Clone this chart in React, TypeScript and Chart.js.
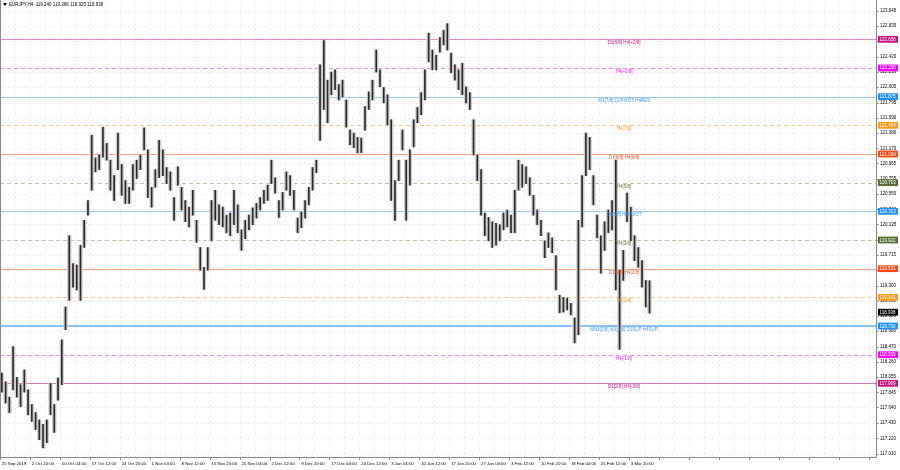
import React, { useEffect, useRef } from 'react';
import { Chart, registerables } from 'chart.js';
Chart.register(...registerables);

const symbolTitle = 'EURJPY,H4';
const lastBar = [119.24, 119.366, 118.925, 118.938];
const lastPrice = 118.938;

const timeLabels = ['25 Sep 2019', '2 Oct 20:00', '10 Oct 04:00', '17 Oct 12:00', '24 Oct 20:00', '1 Nov 04:00', '8 Nov 12:00', '15 Nov 20:00', '25 Nov 04:00', '2 Dec 12:00', '9 Dec 20:00', '17 Dec 04:00', '24 Dec 12:00', '3 Jan 04:00', '10 Jan 12:00', '17 Jan 20:00', '27 Jan 04:00', '3 Feb 12:00', '10 Feb 20:00', '18 Feb 04:00', '25 Feb 12:00', '3 Mar 20:00'];

const highs = [
  118.11, 117.99, 117.78, 118.47, 118.05, 117.95, 118.15, 117.88, 117.68, 117.57,
  117.47, 117.41, 117.47, 117.97, 117.68, 118.04, 118.56, 119.01, 119.98, 119.60,
  119.58, 119.85, 120.19, 120.46, 121.35, 121.04, 121.08, 121.46, 121.24, 121.01,
  120.80, 121.38, 120.95, 120.73, 120.64, 120.95, 121.01, 121.08, 121.45, 121.15,
  120.64, 120.88, 121.28, 121.15, 120.91, 120.85, 120.50, 120.92, 120.64, 120.46,
  120.37, 120.60, 120.19, 119.82, 119.55, 119.82, 120.46, 120.60, 120.40, 120.37,
  120.26, 120.29, 120.60, 120.40, 120.06, 120.19, 120.26, 120.36, 120.42, 120.50,
  120.60, 120.67, 121.01, 120.77, 120.46, 120.57, 120.85, 120.80, 120.60, 120.22,
  120.30, 120.46, 120.64, 120.91, 121.01, 122.31, 122.64, 122.10, 122.21, 122.24,
  122.04, 122.10, 121.83, 121.42, 121.38, 121.32, 121.31, 121.74, 121.94, 122.10,
  122.51, 122.24, 122.00, 121.90, 121.56, 120.73, 121.01, 121.42, 121.01, 121.15,
  121.56, 121.73, 121.93, 122.24, 122.74, 122.51, 122.44, 122.68, 122.78, 122.87,
  122.47, 122.31, 122.24, 122.33, 122.01, 121.93, 121.56, 121.08, 120.88, 120.29,
  120.23, 120.17, 120.15, 120.13, 120.29, 120.33, 120.26, 120.60, 121.01, 120.95,
  120.92, 120.77, 120.53, 120.33, 120.19, 119.91, 120.02, 119.95, 119.71, 119.17,
  119.14, 119.13, 119.06, 118.86, 120.19, 120.80, 121.38, 121.32, 120.80, 120.26,
  119.98, 120.17, 120.33, 120.46, 121.01, 119.51, 119.78, 120.56, 120.37, 119.98,
  119.82, 119.64, 119.37, 119.366,
];

const lows = [
  117.85, 117.70, 117.57, 117.88, 117.78, 117.65, 117.85, 117.54, 117.45, 117.34,
  117.20, 117.09, 117.16, 117.54, 117.30, 117.74, 117.95, 118.70, 119.10, 119.28,
  119.24, 119.10, 119.82, 120.26, 120.60, 120.85, 120.88, 121.05, 121.01, 120.60,
  120.46, 120.88, 120.53, 120.42, 120.42, 120.60, 120.76, 120.88, 121.15, 120.50,
  120.37, 120.64, 120.77, 120.80, 120.69, 120.60, 120.19, 120.67, 120.33, 120.17,
  120.10, 120.26, 119.89, 119.51, 119.25, 119.51, 119.91, 120.19, 120.13, 120.10,
  120.02, 119.98, 120.13, 120.02, 119.78, 119.94, 120.06, 120.13, 120.22, 120.33,
  120.42, 120.46, 120.69, 120.56, 120.23, 120.33, 120.60, 120.53, 120.33, 120.02,
  120.09, 120.22, 120.40, 120.60, 120.84, 121.28, 121.70, 121.52, 121.90, 121.97,
  121.83, 121.87, 121.46, 121.22, 121.18, 121.11, 121.11, 121.42, 121.70, 121.83,
  122.21, 122.01, 121.79, 121.49, 120.46, 120.19, 120.73, 121.15, 120.19, 120.67,
  121.19, 121.52, 121.63, 121.83, 122.35, 122.24, 122.24, 122.48, 122.58, 122.51,
  122.20, 122.10, 121.97, 121.90, 121.79, 121.70, 121.08, 120.73, 120.26, 119.98,
  119.91, 119.82, 119.85, 119.91, 120.06, 120.10, 120.02, 120.02, 120.60, 120.64,
  120.69, 120.53, 120.26, 120.13, 119.98, 119.68, 119.82, 119.75, 119.24, 118.93,
  118.94, 118.97, 118.90, 118.52, 118.63, 120.10, 120.80, 120.88, 120.40, 119.95,
  119.47, 119.78, 120.02, 120.06, 119.24, 118.43, 119.37, 120.17, 119.91, 119.64,
  119.55, 119.28, 119.01, 118.925,
];

const priceTicks = [123.045, 122.835, 122.63, 122.42, 122.21, 122.005, 121.795, 121.59, 121.38, 121.17, 120.965, 120.755, 120.55, 120.34, 120.135, 119.925, 119.715, 119.51, 119.3, 119.09, 118.885, 118.68, 118.47, 118.26, 118.055, 117.845, 117.64, 117.43, 117.22, 117.01];

const levelPrices = [122.656, 122.266, 121.875, 121.484, 121.094, 120.703, 120.313, 119.922, 119.531, 119.141, 118.75, 118.359, 117.969];
const levelNames = ['D1[8/8] H4[+2/8]', 'H4[+1/8]', 'W1[7/8] D1PIVOT H4RES', 'H4[7/8]', 'D1[6/8] H4[6/8]', 'H4[5/8]', 'D1[5/8] H4PIVOT', 'H4[3/8]', 'D1[4/8] H4[2/8]', 'H4[1/8]', 'MN1[3/8] W1[3/8] D1SUP H4SUP', 'H4[-1/8]', 'D1[2/8] H4[-2/8]'];

// styles (not data)
const levelStyles = [
  { line: '#e78ac2', text: '#c71585', box: '#c71585', dash: false, width: 1 },
  { line: '#f084f0', text: '#f020f0', box: '#ff00ff', dash: true, width: 1 },
  { line: '#9ccaf6', text: '#3d98ee', box: '#1e90ff', dash: false, width: 1 },
  { line: '#f8c690', text: '#f39a2a', box: '#ff9a1a', dash: true, width: 1 },
  { line: '#f7a184', text: '#f45a2a', box: '#ff4a12', dash: false, width: 1 },
  { line: '#c6c1a8', text: '#6b7d3c', box: '#5a6e35', dash: true, width: 1 },
  { line: '#9ccaf6', text: '#3d98ee', box: '#1e90ff', dash: false, width: 1 },
  { line: '#c6c1a8', text: '#6b7d3c', box: '#5a6e35', dash: true, width: 1 },
  { line: '#f7a184', text: '#f45a2a', box: '#ff4a12', dash: false, width: 1 },
  { line: '#f8c690', text: '#f39a2a', box: '#ff9a1a', dash: true, width: 1 },
  { line: '#86c0f7', text: '#3d98ee', box: '#1e90ff', dash: false, width: 2 },
  { line: '#f084f0', text: '#f020f0', box: '#ff00ff', dash: true, width: 1 },
  { line: '#d777b5', text: '#c71585', box: '#c71585', dash: false, width: 1 },
];

const SLOTS = 234;
const FONT = '"Liberation Sans", Arial, sans-serif';

export default function App() {
  const ref = useRef<HTMLCanvasElement>(null);
  useEffect(() => {
    document.body.style.margin = '0';
    const labels = Array.from({ length: SLOTS }, (_, i) => (i % 8 === 0 && timeLabels[i / 8]) ? timeLabels[i / 8] : '');
    const ranges = highs.map((h, i) => [lows[i], h]);

    const mt4 = {
      id: 'mt4',
      beforeDatasetsDraw(chart: any) {
        const { ctx, chartArea: a, scales } = chart;
        const x = scales.x, y = scales.y;
        const w = (a.right - a.left) / SLOTS;
        ctx.save();
        ctx.beginPath();
        ctx.rect(a.left, a.top, a.right - a.left, a.bottom - a.top);
        ctx.clip();
        ctx.strokeStyle = '#ececec';
        ctx.lineWidth = 1;
        ctx.setLineDash([2, 2]);
        for (let i = 4; i < SLOTS; i += 4) {
          const px = Math.round(x.getPixelForValue(i) - w / 2) + 0.5;
          ctx.beginPath(); ctx.moveTo(px, a.top); ctx.lineTo(px, a.bottom); ctx.stroke();
        }
        priceTicks.forEach((v) => {
          const py = Math.round(y.getPixelForValue(v)) + 0.5;
          ctx.beginPath(); ctx.moveTo(a.left, py); ctx.lineTo(a.right, py); ctx.stroke();
        });
        levelPrices.forEach((p, i) => {
          const s = levelStyles[i];
          const py = Math.round(y.getPixelForValue(p)) + (s.width === 1 ? 0.5 : 0);
          ctx.strokeStyle = s.line;
          ctx.lineWidth = s.width;
          ctx.setLineDash(s.dash ? [4, 3] : []);
          ctx.beginPath(); ctx.moveTo(a.left, py); ctx.lineTo(a.right, py); ctx.stroke();
        });
        ctx.restore();
      },
      afterDatasetsDraw(chart: any) {
        const { ctx, scales } = chart;
        const y = scales.y;
        ctx.save();
        ctx.font = `4.5px ${FONT}`;
        ctx.textAlign = 'center';
        ctx.textBaseline = 'top';
        levelPrices.forEach((p, i) => {
          const py = y.getPixelForValue(p);
          ctx.fillStyle = levelStyles[i].text;
          ctx.fillText(levelNames[i], 624, py + 1.5);
        });
        ctx.restore();
      },
      afterDraw(chart: any) {
        const { ctx, chartArea: a, scales } = chart;
        const x = scales.x, y = scales.y;
        const w = (a.right - a.left) / SLOTS;
        ctx.save();
        ctx.strokeStyle = '#8a8a8a';
        ctx.lineWidth = 1;
        ctx.beginPath();
        ctx.moveTo(a.left + 0.5, a.top); ctx.lineTo(a.left + 0.5, a.bottom + 0.5);
        ctx.lineTo(a.right + 0.5, a.bottom + 0.5); ctx.lineTo(a.right + 0.5, a.top);
        ctx.stroke();
        priceTicks.forEach((v) => {
          const py = Math.round(y.getPixelForValue(v)) + 0.5;
          ctx.beginPath(); ctx.moveTo(a.right, py); ctx.lineTo(a.right + 2.5, py); ctx.stroke();
        });
        for (let i = 0; i < SLOTS; i += 8) {
          const px = Math.round(x.getPixelForValue(i) - w / 2) + 0.5;
          ctx.beginPath(); ctx.moveTo(px, a.bottom); ctx.lineTo(px, a.bottom + 3); ctx.stroke();
        }
        ctx.fillStyle = '#000';
        ctx.beginPath(); ctx.moveTo(3, 3); ctx.lineTo(7, 3); ctx.lineTo(5, 6); ctx.closePath(); ctx.fill();
        ctx.font = `4.5px ${FONT}`;
        ctx.textAlign = 'left';
        ctx.textBaseline = 'middle';
        ctx.fillText(`${symbolTitle}  ${lastBar.map((v) => v.toFixed(3)).join(' ')}`, 9, 4.8);
        const boxes = levelPrices.map((p, i) => ({ p, c: levelStyles[i].box }));
        boxes.push({ p: lastPrice, c: '#000000' });
        boxes.forEach(({ p, c }) => {
          const py = y.getPixelForValue(p);
          ctx.fillStyle = c;
          ctx.fillRect(a.right + 2, py - 3.4, 20, 6.8);
          ctx.fillStyle = '#fff';
          ctx.fillText(p.toFixed(3), a.right + 3.5, py + 0.3);
        });
        ctx.restore();
      },
    };

    const chart = new Chart(ref.current!, {
      type: 'bar',
      data: {
        labels,
        datasets: [
          {
            data: ranges as any,
            backgroundColor: '#cfcfcf',
            borderWidth: 0,
            barPercentage: 1,
            categoryPercentage: 1,
            grouped: false,
            order: 2,
          },
          {
            data: ranges as any,
            backgroundColor: '#2a2a2a',
            borderWidth: 0,
            barThickness: 1,
            grouped: false,
            order: 1,
          },
        ],
      },
      options: {
        animation: false,
        responsive: false,
        layout: { padding: 0 },
        plugins: { legend: { display: false }, tooltip: { enabled: false }, title: { display: false } },
        scales: {
          x: {
            type: 'category',
            offset: true,
            grid: { display: false, drawTicks: false },
            border: { display: false },
            ticks: {
              autoSkip: false, maxRotation: 0, minRotation: 0, align: 'start',
              font: { size: 4.3, family: FONT }, color: '#000', padding: 4,
            },
            afterFit(s: any) { s.height = 13; s.paddingLeft = 0; s.paddingRight = 0; },
          },
          y: {
            position: 'right',
            min: 116.965,
            max: 123.192,
            grid: { display: false, drawTicks: false },
            border: { display: false },
            afterBuildTicks(s: any) { s.ticks = priceTicks.map((v) => ({ value: v })); },
            ticks: {
              font: { size: 4.5, family: FONT }, color: '#000', padding: 4,
              callback: (v: any) => Number(v).toFixed(3),
            },
            afterFit(s: any) { s.width = 24; s.paddingTop = 0; s.paddingBottom = 0; },
          },
        },
      },
      plugins: [mt4],
    });
    return () => chart.destroy();
  }, []);

  return (
    <div style={{ width: 900, height: 470, background: '#fff' }}>
      <canvas ref={ref} width={900} height={470} style={{ display: 'block' }} />
    </div>
  );
}
